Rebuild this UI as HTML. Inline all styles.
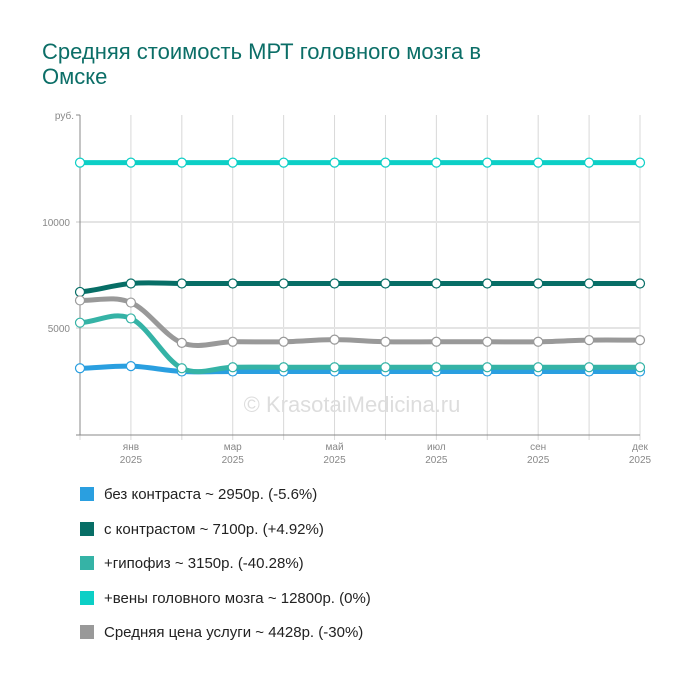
<!DOCTYPE html>
<html><head><meta charset="utf-8"><style>
body{margin:0;background:#fff;font-family:"Liberation Sans",sans-serif}
#t{position:absolute;left:42px;top:39px;font-size:22px;line-height:25px;color:#0b6e67;width:490px}
.lg{position:absolute;left:80px;font-size:15px;color:#222;height:20px;line-height:20px}
.lg span{display:inline-block;width:14px;height:14px;margin-right:10px;vertical-align:-2px}
</style></head><body>
<div id="t">Средняя стоимость МРТ головного мозга в Омске</div>
<svg id="c" width="700" height="680" style="position:absolute;left:0;top:0"></svg>
<div id="legend"></div>
<script>
const months=["дек","янв","фев","мар","апр","май","июн","июл","авг","сен","окт","дек"];
const tickLabels=[null,"янв",null,"мар",null,"май",null,"июл",null,"сен",null,"дек"];
const yTicks=[5000,10000];
const names=["без контраста ~ 2950р. (-5.6%)","с контрастом ~ 7100р. (+4.92%)","+гипофиз ~ 3150р. (-40.28%)","+вены головного мозга ~ 12800р. (0%)","Средняя цена услуги ~ 4428р. (-30%)"];
const colors=["#2a9fe0","#076e66","#35b3a6","#0ccfc6","#999999"];
const s0=[3100,3200,2950,2950,2950,2950,2950,2950,2950,2950,2950,2950];
const s1=[6700,7100,7100,7100,7100,7100,7100,7100,7100,7100,7100,7100];
const s2=[5250,5450,3100,3150,3150,3150,3150,3150,3150,3150,3150,3150];
const s3=[12800,12800,12800,12800,12800,12800,12800,12800,12800,12800,12800,12800];
const s4=[6300,6200,4300,4350,4350,4450,4350,4350,4350,4350,4428,4428];
const series=[s0,s1,s2,s3,s4];
const N=months.length;
const X=i=>80+i*(560/(N-1)), Y=v=>434-v*106/5000;
const svg=document.getElementById('c'),NS="http://www.w3.org/2000/svg";
function mk(t,a,p){const e=document.createElementNS(NS,t);for(const k in a)e.setAttribute(k,a[k]);(p||svg).appendChild(e);return e;}
for(let i=0;i<N;i++){const l=mk('line',{x1:X(i),x2:X(i),y1:115,y2:440,stroke:'#d8d8d8'});


if(tickLabels[i]){const t=mk('text',{x:X(i),y:450,'text-anchor':'middle','font-size':10,fill:'#888'});t.textContent=tickLabels[i];


const t2=mk('text',{x:X(i),y:463,'text-anchor':'middle','font-size':10,fill:'#888'});t2.textContent='2025';}}
yTicks.forEach(v=>{mk('line',{x1:76,x2:640,y1:Y(v),y2:Y(v),stroke:'#e4e4e4','stroke-width':2});
const t=mk('text',{x:70,y:Y(v)+4,'text-anchor':'end','font-size':10,fill:'#888'});t.textContent=v;

});
mk('line',{x1:80,x2:80,y1:115,y2:435,stroke:'#888'});
mk('line',{x1:76,x2:80,y1:115,y2:115,stroke:'#888'});
mk('line',{x1:76,x2:640,y1:435,y2:435,stroke:'#888'});
const ru=mk('text',{x:74,y:119,'text-anchor':'end','font-size':10,fill:'#888'});ru.textContent='руб.';
const wm=mk('text',{x:352,y:412,'text-anchor':'middle','font-size':22,fill:'#ddd'});wm.textContent='© KrasotaiMedicina.ru';
function path(s){const w=560/(N-1);let d='M'+X(0)+','+Y(s[0]);for(let i=0;i<s.length-1;i++){const p0=s[Math.max(0,i-1)],p1=s[i],p2=s[i+1],p3=s[Math.min(s.length-1,i+2)];const dx=w/3;
d+=' C'+(X(i)+dx)+','+Y(p1+(p2-p0)/6)+' '+(X(i+1)-dx)+','+Y(p2-(p3-p1)/6)+' '+X(i+1)+','+Y(p2);}return d;}
series.forEach((s,k)=>{const p=mk('path',{d:path(s),fill:'none',stroke:colors[k],'stroke-width':5,'stroke-linecap':'round'});


s.forEach((v,i)=>{const c=mk('circle',{cx:X(i),cy:Y(v),r:4.5,fill:'#fff',stroke:colors[k],'stroke-width':1.2});

});});
const lg=document.getElementById('legend');
names.forEach((n,k)=>{const d=document.createElement('div');d.className='lg';d.style.top=(485+k*34.5)+'px';
d.innerHTML='<span style="background:'+colors[k]+'"></span>'+n;


lg.appendChild(d);});
</script></body></html>
